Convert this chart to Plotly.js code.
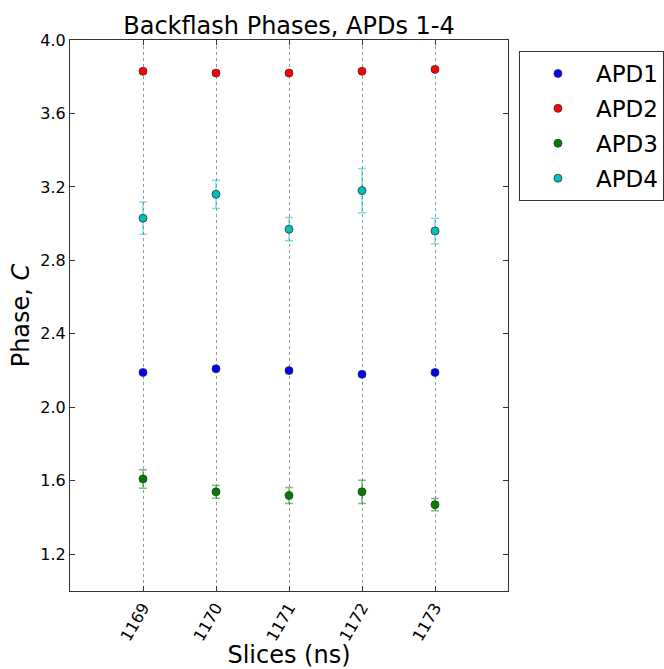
<!DOCTYPE html>
<html>
<head>
<meta charset="utf-8">
<script src="https://cdn.plot.ly/plotly-3.0.1.min.js"></script>
<style>html,body{margin:0;padding:0;background:#fff;}</style>
</head>
<body>
<div id="chart" style="width:664px;height:669px;"></div>
<script>
const slices = [1169, 1170, 1171, 1172, 1173];
const tickLabels = ["1169", "1170", "1171", "1172", "1173"];
const apd1 = [2.19, 2.21, 2.20, 2.18, 2.19];
const apd1Err = [0.01, 0.01, 0.01, 0.01, 0.01];
const apd2 = [3.83, 3.82, 3.82, 3.83, 3.84];
const apd2Err = [0.01, 0.01, 0.01, 0.01, 0.01];
const apd3 = [1.61, 1.54, 1.52, 1.54, 1.47];
const apd3Err = [0.05, 0.035, 0.043, 0.063, 0.033];
const apd4 = [3.03, 3.16, 2.97, 3.18, 2.96];
const apd4Err = [0.088, 0.077, 0.063, 0.12, 0.07];

const names = ["APD1", "APD2", "APD3", "APD4"];
const ys = [apd1, apd2, apd3, apd4];
const errs = [apd1Err, apd2Err, apd3Err, apd4Err];
const colors = ["#0000ff", "#ff0000", "#008000", "#00bfbf"];
const errColors = ["rgba(0,0,255,0.5)", "rgba(255,0,0,0.5)", "rgba(0,128,0,0.5)", "rgba(0,191,191,0.5)"];

const traces = names.map((n, i) => ({
  type: "scatter",
  mode: "markers",
  name: n,
  legendgroup: n,
  x: slices,
  y: ys[i],
  error_y: {type: "data", array: errs[i], visible: true, color: errColors[i], thickness: 1.5, width: 4},
  marker: {color: colors[i], size: 8, line: {color: "#333333", width: 0.8}}
}));

const font = {family: "DejaVu Sans, sans-serif", color: "#000"};
const layout = {
  width: 664, height: 669,
  margin: {l: 70, r: 156, t: 40, b: 78, autoexpand: false},
  paper_bgcolor: "#fff", plot_bgcolor: "#fff",
  font: font,
  title: {text: "Backflash Phases, APDs 1-4", font: {family: font.family, size: 24, color: "#000"}, xref: "paper", x: 0.5, xanchor: "center", yref: "container", y: 0.962, yanchor: "middle"},
  xaxis: {
    range: [1168, 1174],
    tickvals: slices, ticktext: tickLabels, tickangle: -60,
    tickfont: {size: 16, color: "#000"},
    ticks: "inside", ticklen: 5, tickcolor: "#333",
    showline: true, linecolor: "#333", linewidth: 1, mirror: "ticks",
    showgrid: true, gridcolor: "#999999", griddash: "dot", gridwidth: 1,
    zeroline: false,
    title: {text: "Slices (ns)", font: {size: 24, color: "#000"}, standoff: 0}
  },
  yaxis: {
    range: [1.0, 4.0],
    tickvals: [1.2, 1.6, 2.0, 2.4, 2.8, 3.2, 3.6, 4.0],
    ticktext: ["1.2", "1.6", "2.0", "2.4", "2.8", "3.2", "3.6", "4.0"],
    tickfont: {size: 16, color: "#000"},
    ticks: "inside", ticklen: 5, tickcolor: "#333",
    showline: true, linecolor: "#333", linewidth: 1, mirror: "ticks",
    showgrid: false, zeroline: false,
    title: {text: "Phase, <i>C</i>", font: {size: 24, color: "#000"}, standoff: 3}
  },
  legend: {
    x: 1.025, xanchor: "left", y: 0.98, yanchor: "top",
    bordercolor: "#333", borderwidth: 1, bgcolor: "#fff",
    font: {size: 23, color: "#000"},
    itemwidth: 66,
    tracegroupgap: 2
  },
  showlegend: true
};

Plotly.newPlot("chart", traces, layout, {displayModeBar: false, staticPlot: true});
</script>
</body>
</html>
